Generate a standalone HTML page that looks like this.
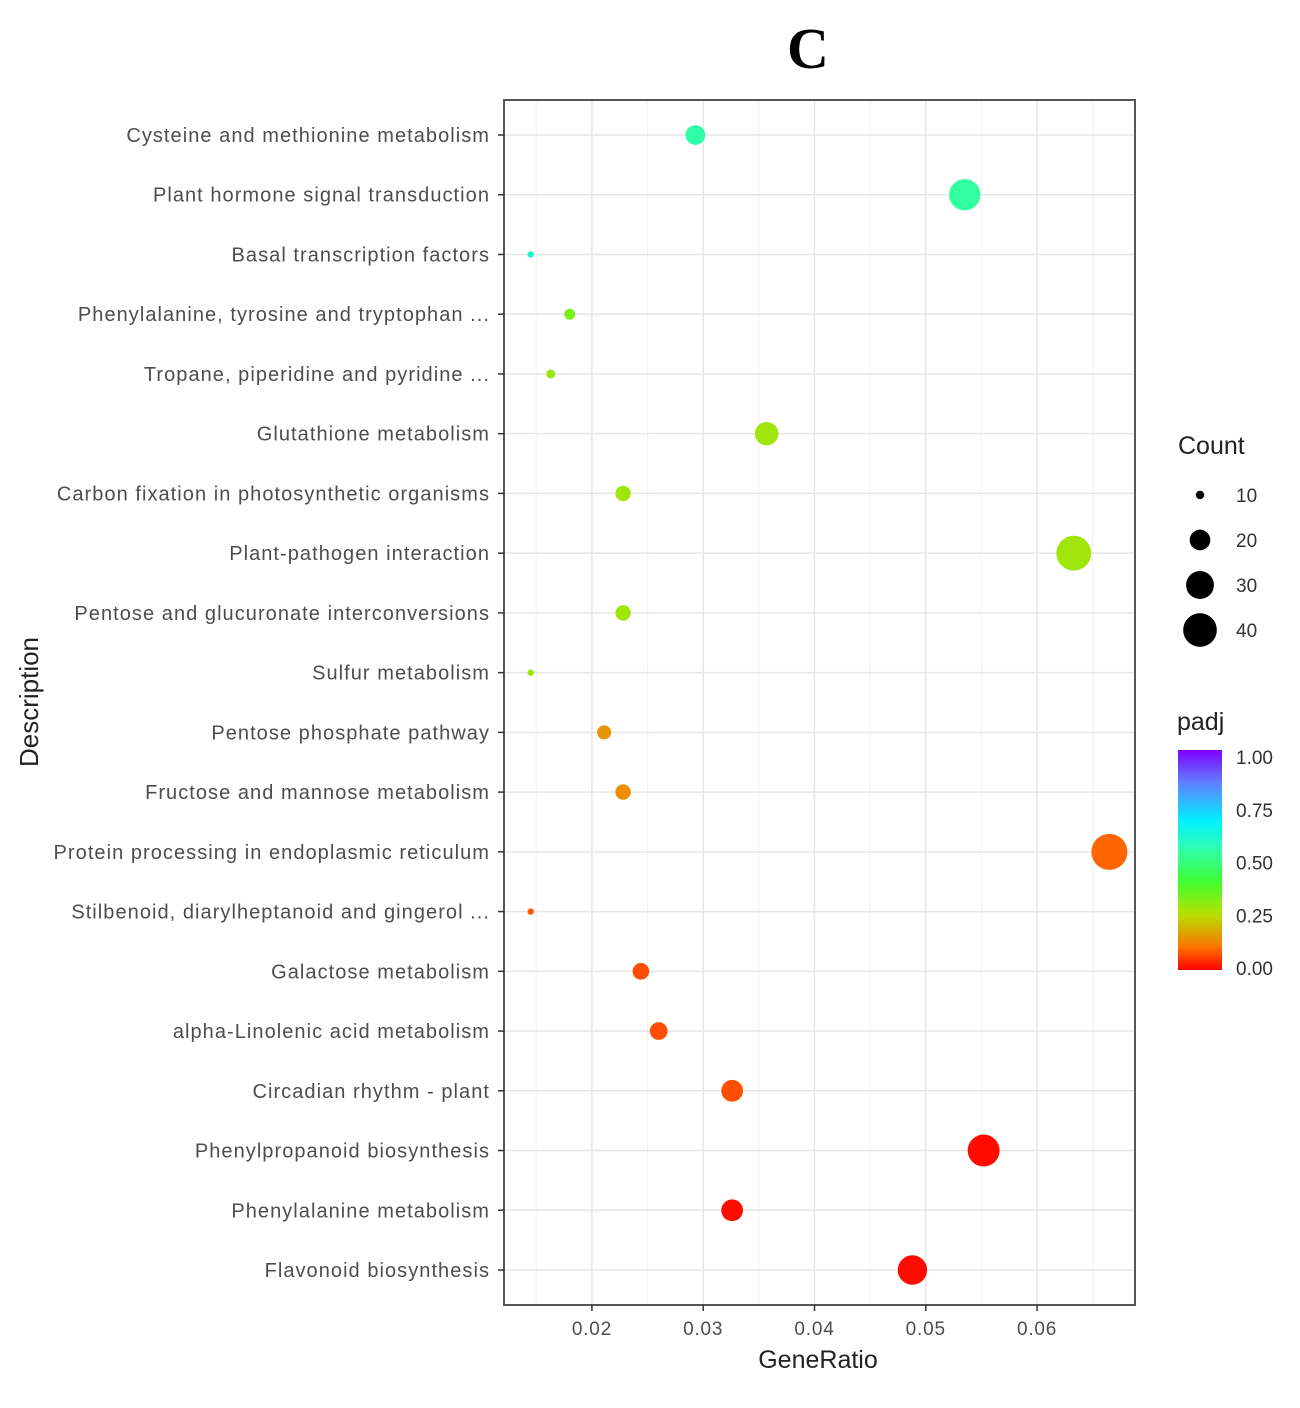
<!DOCTYPE html>
<html><head><meta charset="utf-8"><style>
body{margin:0;background:#fff;width:1300px;height:1403px;overflow:hidden;font-family:"Liberation Sans",sans-serif}
</style></head><body>
<svg id="chart" width="1300" height="1403" xmlns="http://www.w3.org/2000/svg">
<defs>
<linearGradient id="cbar" x1="0" y1="1" x2="0" y2="0">
<stop offset="0" stop-color="#ff0000"/><stop offset="0.1" stop-color="#ff7000"/>
<stop offset="0.25" stop-color="#b8e000"/><stop offset="0.4" stop-color="#40ff30"/>
<stop offset="0.55" stop-color="#30ffb0"/><stop offset="0.68" stop-color="#00f0ff"/>
<stop offset="0.85" stop-color="#6080ff"/><stop offset="1" stop-color="#8000ff"/>
</linearGradient>
</defs>
<text x="808" y="68" text-anchor="middle" font-family="Liberation Serif,serif" font-weight="bold" font-size="58">C</text>
<g id="grid"></g>
<g id="points"></g>
<rect x="504" y="100" width="631" height="1205" fill="none" stroke="#555" stroke-width="2"/>
<g id="yaxis"></g>
<g id="xaxis"></g>
<text x="818" y="1368" text-anchor="middle" font-size="25" fill="#222">GeneRatio</text>
<text transform="translate(38,702) rotate(-90)" text-anchor="middle" font-size="26" fill="#222">Description</text>
<g>
<text x="1178" y="454" font-size="25" fill="#222">Count</text>
<g id="sizeleg"></g>
</g>
<g>
<text x="1177" y="730" font-size="25" fill="#222">padj</text>
<rect x="1178" y="750" width="44" height="220" fill="url(#cbar)"/>
<g id="cleg"></g>
</g>
</svg>
<script>
const categories=["Cysteine and methionine metabolism","Plant hormone signal transduction","Basal transcription factors","Phenylalanine, tyrosine and tryptophan ...","Tropane, piperidine and pyridine ...","Glutathione metabolism","Carbon fixation in photosynthetic organisms","Plant-pathogen interaction","Pentose and glucuronate interconversions","Sulfur metabolism","Pentose phosphate pathway","Fructose and mannose metabolism","Protein processing in endoplasmic reticulum","Stilbenoid, diarylheptanoid and gingerol ...","Galactose metabolism","alpha-Linolenic acid metabolism","Circadian rhythm - plant","Phenylpropanoid biosynthesis","Phenylalanine metabolism","Flavonoid biosynthesis"];
const geneRatio=[0.0293,0.0535,0.0145,0.018,0.0163,0.0357,0.0228,0.0633,0.0228,0.0145,0.0211,0.0228,0.0665,0.0145,0.0244,0.026,0.0326,0.0552,0.0326,0.0488];
const counts=[18,33,9,11,10,22,14,39,14,9,13,14,41,9,15,16,20,34,20,30];
const padj=[0.54,0.53,0.6,0.33,0.29,0.28,0.28,0.28,0.28,0.28,0.15,0.14,0.09,0.08,0.07,0.07,0.07,0.01,0.01,0.01];
const xTicks=[0.02,0.03,0.04,0.05,0.06];
const xTickLabels=["0.02","0.03","0.04","0.05","0.06"];
const legendCounts=[10,20,30,40];
const colorTicks=[1,0.75,0.5,0.25,0];
const colorTickLabels=["1.00","0.75","0.50","0.25","0.00"];

const NS="http://www.w3.org/2000/svg";
const X0=0.0121,X1=0.0688,PX0=504,PX1=1135;
const xs=v=>PX0+(v-X0)/(X1-X0)*(PX1-PX0);
const ys=i=>135+i*(1270-135)/(categories.length-1);
const cMin=9,cMax=41,rMin=3.2,rMax=18;
const rs=c=>Math.sqrt(rMin*rMin+(c-cMin)/(cMax-cMin)*(rMax*rMax-rMin*rMin));
const stops=[[0,[255,0,0]],[0.1,[255,112,0]],[0.25,[184,224,0]],[0.4,[64,255,48]],[0.55,[48,255,176]],[0.68,[0,240,255]],[0.85,[96,128,255]],[1,[128,0,255]]];
function col(p){for(let k=1;k<stops.length;k++){if(p<=stops[k][0]){const a=stops[k-1],b=stops[k],t=(p-a[0])/(b[0]-a[0]);return "rgb("+a[1].map((v,j)=>Math.round(v+(b[1][j]-v)*t)).join(",")+")";}}return "rgb(128,0,255)";}
function mk(tag,attrs,parent){const e=document.createElementNS(NS,tag);for(const k in attrs)e.setAttribute(k,attrs[k]);parent.appendChild(e);return e;}
const grid=document.getElementById('grid');
for(let i=0;i<xTicks.length+1;i++){
  const v=(i===0?xTicks[0]-0.005:xTicks[i-1]+0.005);
  if(v>X0&&v<X1){const l=mk('line',{x1:xs(v),x2:xs(v),y1:100,y2:1305,stroke:'#f2f2f2','stroke-width':1},grid);
  
  }
}
xTicks.forEach(v=>{const l=mk('line',{x1:xs(v),x2:xs(v),y1:100,y2:1305,stroke:'#e6e6e6','stroke-width':1.5},grid);

});
categories.forEach((c,i)=>{const l=mk('line',{x1:504,x2:1135,y1:ys(i),y2:ys(i),stroke:'#e6e6e6','stroke-width':1.5},grid);

});
const ya=document.getElementById('yaxis');
categories.forEach((c,i)=>{
  const t=mk('line',{x1:498,x2:504,y1:ys(i),y2:ys(i),stroke:'#333','stroke-width':1.5},ya);
  
  
  const tx=mk('text',{x:490,y:ys(i)+7,'text-anchor':'end','font-size':20,'letter-spacing':'1.05',fill:'#4d4d4d'},ya);
  tx.textContent=c;
  
  
});
const xa=document.getElementById('xaxis');
xTicks.forEach((v,i)=>{
  const t=mk('line',{x1:xs(v),x2:xs(v),y1:1305,y2:1311,stroke:'#333','stroke-width':1.5},xa);
  
  
  const tx=mk('text',{x:xs(v),y:1335,'text-anchor':'middle','font-size':19,'letter-spacing':'0.8',fill:'#4d4d4d'},xa);
  tx.textContent=xTickLabels[i];
  
  
});
const pts=document.getElementById('points');
categories.forEach((c,i)=>{
  const p=mk('circle',{cx:xs(geneRatio[i]),cy:ys(i),r:rs(counts[i]),fill:col(padj[i])},pts);
  
  
});
const sl=document.getElementById('sizeleg');
legendCounts.forEach((c,i)=>{
  const y=495+i*45;
  const p=mk('circle',{cx:1200,cy:y,r:rs(c)*0.95,fill:'#000'},sl);
  
  
  const t=mk('text',{x:1236,y:y+7,'font-size':19,fill:'#333'},sl);
  t.textContent=String(c);
  
  
});
const cl=document.getElementById('cleg');
colorTicks.forEach((v,i)=>{
  const y=968-v*211;
  const t=mk('text',{x:1236,y:y+7,'font-size':19,fill:'#333'},cl);
  t.textContent=colorTickLabels[i];
  
  
});
</script>
</body></html>
